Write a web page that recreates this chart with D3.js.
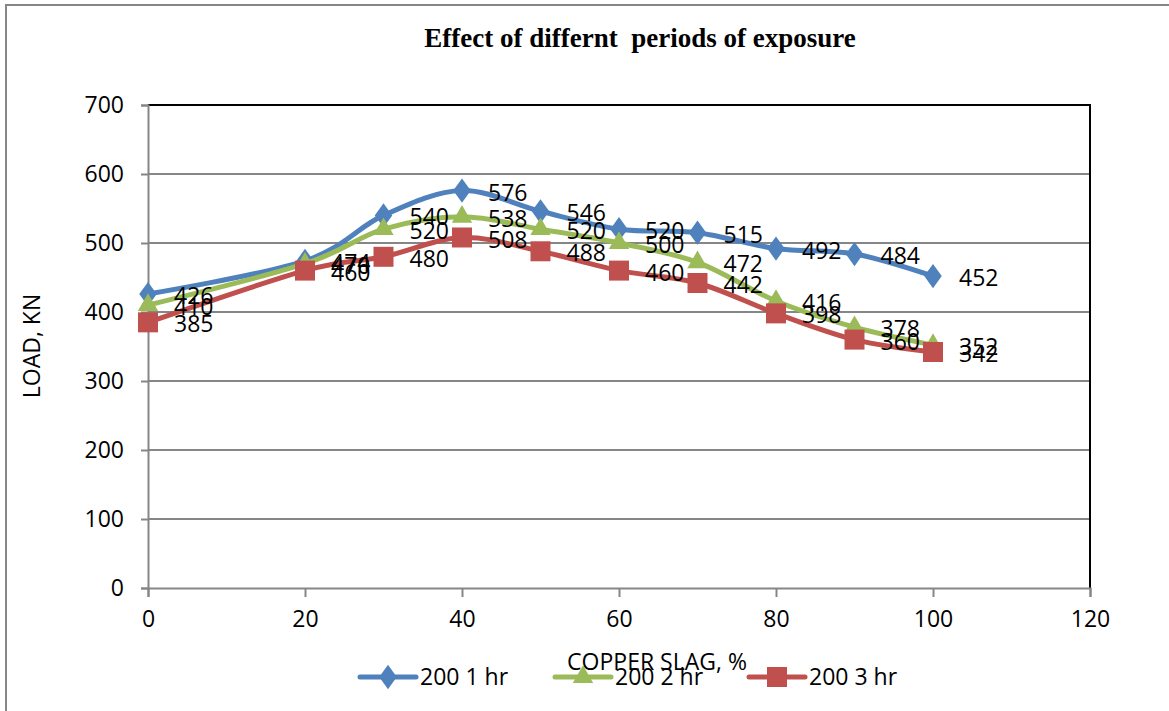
<!DOCTYPE html>
<meta charset="utf-8">
<style>
  body { margin: 0; background: #fff; }
  .tick-label, .data-label, .axis-title, .legend-label {
    font-family: "Open Sans", sans-serif;
    fill: #000;
  }
  .title {
    font-family: "Liberation Serif", serif;
    font-weight: bold;
    font-size: 27px;
  }
</style>
<script src="https://d3js.org/d3.v7.min.js"></script>
<div id="chart"></div>
<script>
  // chart data
  var copperSlag = [0, 20, 30, 40, 50, 60, 70, 80, 90, 100];
  var load1hr = [426, 474, 540, 576, 546, 520, 515, 492, 484, 452];
  var load2hr = [410, 470, 520, 538, 520, 500, 472, 416, 378, 352];
  var load3hr = [385, 460, 480, 508, 488, 460, 442, 398, 360, 342];
  var seriesNames = ["200 1 hr", "200 2 hr", "200 3 hr"];
  var xTicks = [0, 20, 40, 60, 80, 100, 120];
  var yTicks = [0, 100, 200, 300, 400, 500, 600, 700];

  (function() {
    var width = 1169, height = 711;
    var plotLeft = 148, plotRight = 1090, plotTop = 105, plotBottom = 588;

    var svg = d3.select("#chart").append("svg")
      .attr("width", width)
      .attr("height", height);

    // outer chart border
    svg.append("rect")
      .attr("x", 6).attr("y", 5)
      .attr("width", 1180).attr("height", 720)
      .attr("fill", "#fff")
      .attr("stroke", "#868686")
      .attr("stroke-width", 2);

    var x = d3.scaleLinear().domain([0, 120]).range([plotLeft, plotRight]);
    var y = d3.scaleLinear().domain([0, 700]).range([plotBottom, plotTop]);

    // gridlines
    svg.append("g").selectAll("line")
      .data(yTicks.filter(function(d) { return d > 0 && d < 700; }))
      .enter().append("line")
        .attr("x1", plotLeft).attr("x2", plotRight)
        .attr("y1", function(d) { return y(d); })
        .attr("y2", function(d) { return y(d); })
        .attr("stroke", "#868686")
        .attr("stroke-width", 2);

    // plot area border (top and right)
    svg.append("path")
      .attr("d", "M" + plotLeft + "," + plotTop + "H" + plotRight + "V" + plotBottom)
      .attr("fill", "none")
      .attr("stroke", "#000")
      .attr("stroke-width", 2);

    // axes
    var yAxis = svg.append("g")
      .attr("transform", "translate(" + plotLeft + ",0)")
      .call(d3.axisLeft(y).tickValues(yTicks).tickSize(7).tickPadding(17));
    var xAxis = svg.append("g")
      .attr("transform", "translate(0," + plotBottom + ")")
      .call(d3.axisBottom(x).tickValues(xTicks).tickSize(9).tickPadding(14));

    [xAxis, yAxis].forEach(function(ax) {
      ax.select(".domain").attr("stroke", "#868686").attr("stroke-width", 2);
      ax.selectAll(".tick line").attr("stroke", "#868686").attr("stroke-width", 2);
      ax.selectAll(".tick text")
        .attr("class", "tick-label")
        .style("font-size", "23px")
        .attr("fill", "#000");
    });

    // title
    svg.append("text")
      .attr("class", "title")
      .attr("x", 640).attr("y", 47)
      .attr("text-anchor", "middle")
      .text("Effect of differnt\u00a0 periods of exposure");

    // axis titles
    svg.append("text")
      .attr("class", "axis-title")
      .attr("transform", "translate(40,346) rotate(-90)")
      .attr("text-anchor", "middle")
      .style("font-size", "23px")
      .text("LOAD, KN");

    svg.append("text")
      .attr("class", "axis-title")
      .attr("x", 657).attr("y", 670)
      .attr("text-anchor", "middle")
      .style("font-size", "23px")
      .text("COPPER SLAG, %");

    var series = [
      { name: seriesNames[0], values: load1hr, color: "#4F81BD", symbol: d3.symbolDiamond, size: 170 },
      { name: seriesNames[1], values: load2hr, color: "#9BBB59", symbol: d3.symbolTriangle, size: 180 },
      { name: seriesNames[2], values: load3hr, color: "#C0504D", symbol: d3.symbolSquare, size: 400 }
    ];

    var line = d3.line()
      .x(function(d) { return x(d[0]); })
      .y(function(d) { return y(d[1]); })
      .curve(d3.curveCardinal.tension(0));

    function markerTransform(s) {
      return s.symbol === d3.symbolDiamond ? " scale(1.25,1)" : "";
    }

    series.forEach(function(s) {
      var pts = copperSlag.map(function(c, i) { return [c, s.values[i]]; });
      var g = svg.append("g");
      g.append("path")
        .attr("d", line(pts))
        .attr("fill", "none")
        .attr("stroke", s.color)
        .attr("stroke-width", 5)
        .attr("stroke-linejoin", "round");
      g.selectAll("path.marker")
        .data(pts)
        .enter().append("path")
          .attr("class", "marker")
          .attr("d", d3.symbol().type(s.symbol).size(s.size))
          .attr("transform", function(d) {
            return "translate(" + x(d[0]) + "," + y(d[1]) + ")" + markerTransform(s);
          })
          .attr("fill", s.color);
    });

    // data labels
    series.forEach(function(s) {
      svg.append("g").selectAll("text")
        .data(copperSlag.map(function(c, i) { return [c, s.values[i]]; }))
        .enter().append("text")
          .attr("class", "data-label")
          .attr("x", function(d) { return x(d[0]) + 26; })
          .attr("y", function(d) { return y(d[1]) + 2; })
          .attr("dy", "0.35em")
          .style("font-size", "23px")
          .text(function(d) { return d[1]; });
    });

    // legend
    var legendX = [360, 555, 749];
    var legendY = 677;
    series.forEach(function(s, i) {
      var lg = svg.append("g").attr("transform", "translate(" + legendX[i] + "," + legendY + ")");
      lg.append("line")
        .attr("x1", 0).attr("x2", 56)
        .attr("stroke", s.color)
        .attr("stroke-width", 5)
        .attr("stroke-linecap", "round");
      lg.append("path")
        .attr("d", d3.symbol().type(s.symbol).size(s.size))
        .attr("transform", "translate(28,0)" + markerTransform(s))
        .attr("fill", s.color);
      lg.append("text")
        .attr("class", "legend-label")
        .attr("x", 60)
        .attr("dy", "0.35em")
        .style("font-size", "23px")
        .text(s.name);
    });
  })();
</script>
